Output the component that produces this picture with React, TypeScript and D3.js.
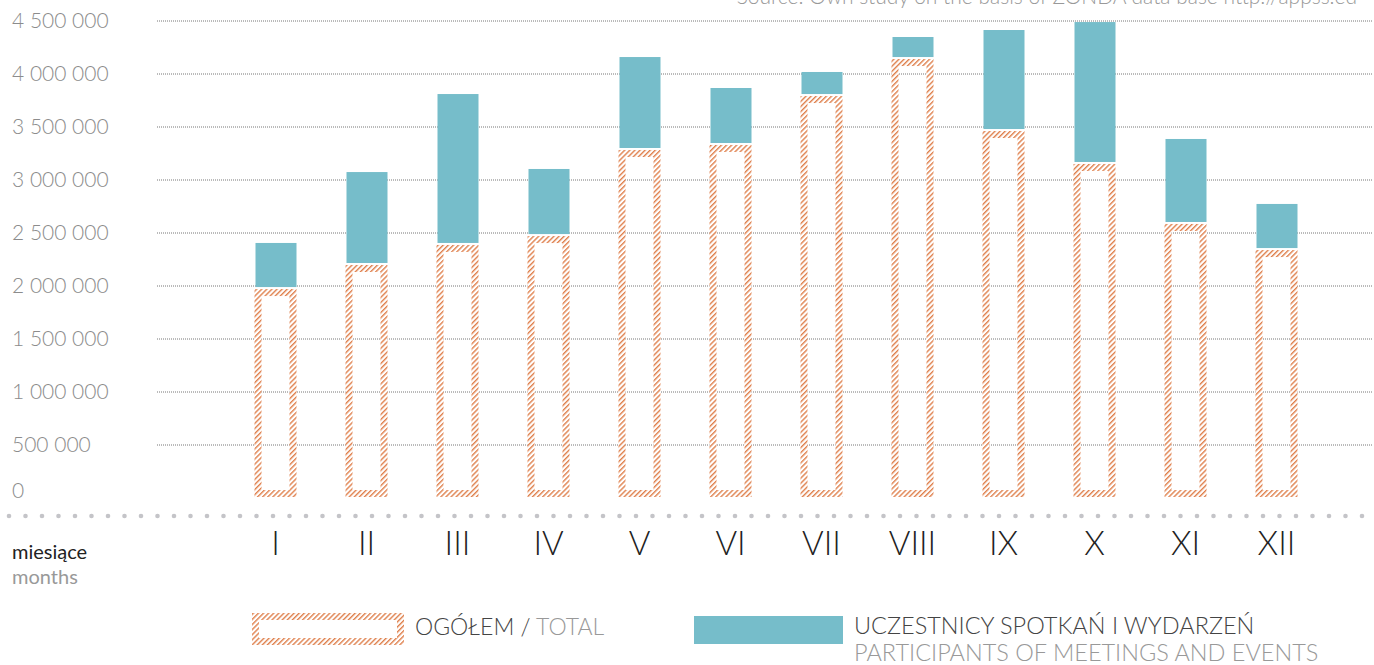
import React from 'react';
import * as d3 from 'd3';

const months = ['I', 'II', 'III', 'IV', 'V', 'VI', 'VII', 'VIII', 'IX', 'X', 'XI', 'XII'];
const totalValues = [1990000, 2217000, 2406000, 2490000, 3302000, 3349000, 3811000, 4160000, 3481000, 3170000, 2604000, 2358000];
const participantValues = [416000, 858000, 1405000, 614000, 858000, 519000, 208000, 189000, 934000, 1320000, 783000, 416000];
const yTicks = [0, 500000, 1000000, 1500000, 2000000, 2500000, 3000000, 3500000, 4000000, 4500000];

const W = 1374;
const H = 665;
const TEAL = '#76bdca';
const HATCH = '#df7f4b';
const FONT = 'Lato, "Open Sans", sans-serif';

const fmt = (v: number) => d3.format(',')(v).replace(/,/g, ' ');

export default function App() {
  const x = d3.scaleBand<string>().domain(months).range([230, 1322]).paddingInner(0).paddingOuter(0);
  const y = d3.scaleLinear().domain([0, 4500000]).range([498, 21]);
  const barW = 42;
  const sw = 7;
  const dots = d3.range(9, W, 16.5);

  return (
    <svg width={W} height={H} style={{ position: 'absolute', left: 0, top: 0, background: '#fff' }} fontFamily={FONT}>
      <defs>
        <pattern id="hatch" patternUnits="userSpaceOnUse" width={3.6} height={3.6} patternTransform="rotate(45)">
          <rect width={3.6} height={3.6} fill="#fff" />
          <line x1={0} y1={0} x2={0} y2={3.6} stroke={HATCH} strokeWidth={2.8} />
        </pattern>
      </defs>

      <text x={1357} y={4} textAnchor="end" fontSize={21} fill="#999" fontWeight={300}>
        Source: Own study on the basis of ZONDA data base http://appss.ed
      </text>

      {yTicks.filter(t => t > 0).map(t => (
        <line key={'g' + t} x1={157} x2={1372} y1={y(t)} y2={y(t)} stroke="#777" strokeWidth={1} strokeDasharray="1 1" />
      ))}
      {yTicks.map(t => (
        <text key={'t' + t} x={12} y={t === 0 ? 491 : y(t)} dy="0.35em" fontSize={21} fill="#8c8c8c" fontWeight={300}>
          {fmt(t)}
        </text>
      ))}

      {months.map((m, i) => {
        const cx = (x(m) as number) + x.bandwidth() / 2;
        const x0 = cx - barW / 2;
        const top = y(totalValues[i]) + 2;
        const bottom = y(0) - 1;
        const pTop = y(totalValues[i] + participantValues[i]);
        const pBot = y(totalValues[i]);
        return (
          <g key={m}>
            <rect x={x0 + sw / 2} y={top + sw / 2} width={barW - sw} height={bottom - top - sw} fill="none" stroke="url(#hatch)" strokeWidth={sw} />
            <rect x={x0 + 1} y={pTop} width={barW - 1} height={pBot - pTop} fill={TEAL} />
            <text x={cx} y={543} dy="0.35em" textAnchor="middle" fontSize={33} fill="#222" fontWeight={300}>{m}</text>
          </g>
        );
      })}

      {dots.map((dx, i) => (
        <circle key={'d' + i} cx={dx} cy={516} r={2.3} fill="#c4c4c8" />
      ))}

      <text x={12} y={552} dy="0.35em" fontSize={20} fill="#222">miesiące</text>
      <text x={12} y={577} dy="0.35em" fontSize={20} fill="#999">months</text>

      <rect x={252 + sw / 2} y={613 + sw / 2} width={152 - sw} height={32 - sw} fill="none" stroke="url(#hatch)" strokeWidth={sw} />
      <text x={415} y={627} dy="0.35em" fontSize={23} fontWeight={300}>
        <tspan fill="#444">OGÓŁEM / </tspan>
        <tspan fill="#999">TOTAL</tspan>
      </text>

      <rect x={694} y={616} width={149} height={28} fill={TEAL} />
      <text x={854} y={626} dy="0.35em" fontSize={23.5} fill="#444" fontWeight={300}>UCZESTNICY SPOTKAŃ I WYDARZEŃ</text>
      <text x={854} y={653} dy="0.35em" fontSize={23.5} fill="#999" fontWeight={300}>PARTICIPANTS OF MEETINGS AND EVENTS</text>
    </svg>
  );
}
